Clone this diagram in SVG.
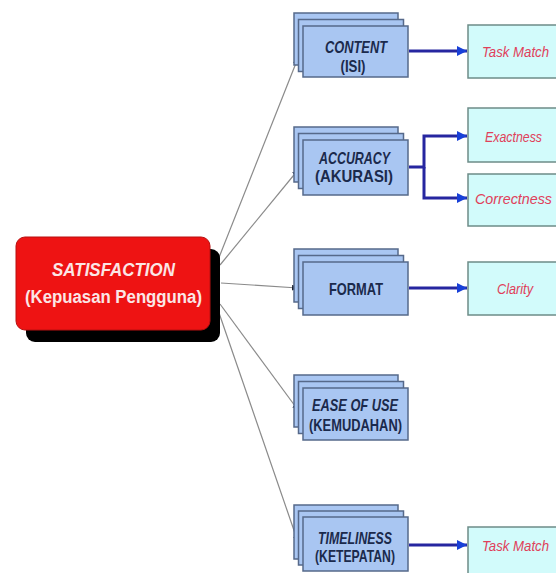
<svg xmlns="http://www.w3.org/2000/svg" width="556" height="573" viewBox="0 0 556 573">
<defs>
<style>
.card{fill:#a9c6f2;stroke:#56698a;stroke-width:1.5}
.leaf{fill:#d2fbfb;stroke:#6d8c88;stroke-width:1.5}
.nt{font-family:"Liberation Sans",Arial,sans-serif;font-weight:bold;font-size:16.5px;fill:#1b2a4c;text-anchor:middle}
.it{font-style:italic}
.lt{font-family:"Liberation Sans",Arial,sans-serif;font-style:italic;font-size:14.5px;fill:#e0405a;text-anchor:middle}
.rt{font-family:"Liberation Sans",Arial,sans-serif;font-weight:bold;fill:#fbe6e6;text-anchor:middle}
.fan{fill:none;stroke:#8a8a8a;stroke-width:1.2}
.blue{fill:none;stroke:#2626a0;stroke-width:3}
</style>
<marker id="ah" viewBox="0 0 10 10" refX="10" refY="5" markerWidth="11" markerHeight="10" markerUnits="userSpaceOnUse" orient="auto">
<path d="M0,0 L10,5 L0,10 z" fill="#1840d8"/>
</marker>
<marker id="sh" viewBox="0 0 10 10" refX="10" refY="5" markerWidth="6" markerHeight="6" markerUnits="userSpaceOnUse" orient="auto">
<path d="M0,0 L10,5 L0,10 z" fill="#1a2030"/>
</marker>
</defs>
<rect width="556" height="573" fill="#ffffff"/>

<g id="connectors">
<path class="fan" d="M218,260 L298,58" marker-end="url(#sh)"/>
<path class="fan" d="M220,265 L298,170" marker-end="url(#sh)"/>
<path class="fan" d="M221,283 L298,288" marker-end="url(#sh)"/>
<path class="fan" d="M220,304 L298,410" marker-end="url(#sh)"/>
<path class="fan" d="M218,310 L298,542" marker-end="url(#sh)"/>
<path class="blue" d="M409,51 H467" marker-end="url(#ah)"/>
<path class="blue" d="M409,167 H424 V136 H467" marker-end="url(#ah)"/>
<path class="blue" d="M424,167 V198 H467" marker-end="url(#ah)"/>
<path class="blue" d="M409,288 H467" marker-end="url(#ah)"/>
<path class="blue" d="M409,545 H467" marker-end="url(#ah)"/>
</g>

<g id="satisfaction">
<rect x="26" y="249" width="194" height="93" rx="9" fill="#000000"/>
<rect x="16" y="237" width="194" height="93" rx="9" fill="#ee1313" stroke="#b81010" stroke-width="1"/>
<text class="rt it" x="113.5" y="275.5" font-size="18" textLength="123" lengthAdjust="spacingAndGlyphs">SATISFACTION</text>
<text class="rt" x="113.5" y="303" font-size="17.5" textLength="177" lengthAdjust="spacingAndGlyphs">(Kepuasan Pengguna)</text>
</g>

<g id="content">
<rect class="card" x="294" y="13" width="104" height="52"/>
<rect class="card" x="298.5" y="19.5" width="105" height="52"/>
<rect class="card" x="303" y="26" width="105" height="51"/>
<text class="nt it" x="356" y="53" textLength="62" lengthAdjust="spacingAndGlyphs">CONTENT</text>
<text class="nt" x="353" y="71.5" textLength="25" lengthAdjust="spacingAndGlyphs">(ISI)</text>
</g>

<g id="accuracy">
<rect class="card" x="294" y="127" width="104" height="55"/>
<rect class="card" x="298.5" y="133.5" width="105" height="55"/>
<rect class="card" x="303" y="140" width="105" height="55"/>
<text class="nt it" x="354.5" y="163.5" textLength="71" lengthAdjust="spacingAndGlyphs">ACCURACY</text>
<text class="nt" x="354" y="181.5" textLength="78" lengthAdjust="spacingAndGlyphs">(AKURASI)</text>
</g>

<g id="format">
<rect class="card" x="294" y="249" width="104" height="53"/>
<rect class="card" x="298.5" y="255.5" width="105" height="53"/>
<rect class="card" x="303" y="262" width="105" height="53"/>
<text class="nt" x="356" y="294.5" textLength="54" lengthAdjust="spacingAndGlyphs">FORMAT</text>
</g>

<g id="ease">
<rect class="card" x="294" y="375" width="104" height="52"/>
<rect class="card" x="298.5" y="381.5" width="105" height="52"/>
<rect class="card" x="303" y="388" width="105" height="52"/>
<text class="nt it" x="355" y="410.5" textLength="86" lengthAdjust="spacingAndGlyphs">EASE OF USE</text>
<text class="nt" x="355.5" y="430.5" textLength="93" lengthAdjust="spacingAndGlyphs">(KEMUDAHAN)</text>
</g>

<g id="timeliness">
<rect class="card" x="294" y="505" width="104" height="54"/>
<rect class="card" x="298.5" y="511" width="105" height="54"/>
<rect class="card" x="303" y="517" width="105" height="54"/>
<text class="nt it" x="355" y="543.5" textLength="74" lengthAdjust="spacingAndGlyphs">TIMELINESS</text>
<text class="nt" x="355" y="561.5" textLength="80" lengthAdjust="spacingAndGlyphs">(KETEPATAN)</text>
</g>

<g id="taskmatch1">
<rect class="leaf" x="468" y="25" width="100" height="53"/>
<text class="lt" x="515.5" y="56.5" textLength="67" lengthAdjust="spacingAndGlyphs">Task Match</text>
</g>
<g id="exactness">
<rect class="leaf" x="468" y="108" width="100" height="54"/>
<text class="lt" x="513.5" y="141.5" textLength="57" lengthAdjust="spacingAndGlyphs">Exactness</text>
</g>
<g id="correctness">
<rect class="leaf" x="468" y="174" width="100" height="52"/>
<text class="lt" x="513.5" y="203.5" textLength="77" lengthAdjust="spacingAndGlyphs">Correctness</text>
</g>
<g id="clarity">
<rect class="leaf" x="468" y="262" width="100" height="53"/>
<text class="lt" x="515" y="293.5" textLength="36" lengthAdjust="spacingAndGlyphs">Clarity</text>
</g>
<g id="taskmatch2">
<rect class="leaf" x="468" y="527" width="100" height="53"/>
<text class="lt" x="515.5" y="550.5" textLength="67" lengthAdjust="spacingAndGlyphs">Task Match</text>
</g>
</svg>
